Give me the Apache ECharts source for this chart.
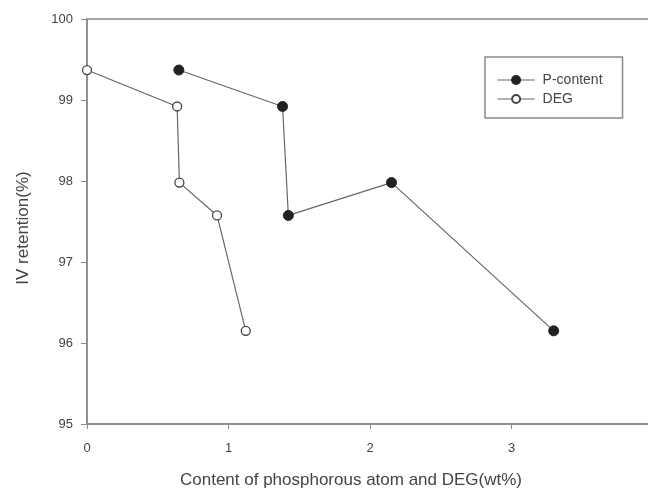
<!DOCTYPE html>
<html>
<head>
<meta charset="utf-8">
<script src="https://cdn.jsdelivr.net/npm/echarts@6/dist/echarts.min.js"></script>
<style>
  html, body { margin: 0; padding: 0; background: #fff; }
  #chart { width: 648px; height: 489px; }
</style>
</head>
<body>
<div id="chart"></div>
<script>
// values (x = wt%, y = IV retention %)
const pContentX = [0.649, 1.382, 1.423, 2.152, 3.298]
const pContentY = [99.37, 98.92, 97.575, 97.98, 96.15]
const degX = [0, 0.637, 0.653, 0.919, 1.122]
const degY = [99.37, 98.92, 97.98, 97.575, 96.15]
const xTicks = { min: 0, max: 4, interval: 1 }
const yTicks = { min: 95, max: 100, interval: 1 }

const axisGray = '#8a8a8a'
const textGray = '#444'
const lineGray = '#666'

const chart = echarts.init(document.getElementById('chart'))

const toPairs = (xs, ys) => xs.map((x, i) => [x, ys[i]])

const option = {
  animation: false,
  textStyle: { fontFamily: 'Liberation Sans, Arial, sans-serif' },
  grid: {
    left: 87,
    right: -5,
    top: 19,
    bottom: 65,
    outerBoundsMode: 'none',
    containLabel: false,
    show: true,
    borderColor: axisGray,
    borderWidth: 1.5
  },
  legend: {
    left: 485,
    top: 57,
    orient: 'vertical',
    itemWidth: 37,
    itemHeight: 10,
    itemGap: 5,
    padding: [16, 20, 12, 12],
    borderColor: '#8a8a8a',
    borderWidth: 1.5,
    lineStyle: { width: 1.2 },
    textStyle: { color: textGray, fontSize: 14, padding: [0, 0, 0, 3] },
    data: ['P-content', 'DEG']
  },
  xAxis: {
    type: 'value',
    min: xTicks.min,
    max: xTicks.max,
    interval: xTicks.interval,
    splitLine: { show: false },
    axisLine: { lineStyle: { color: axisGray, width: 1.5 } },
    axisTick: { show: true, length: 5, lineStyle: { color: axisGray } },
    axisLabel: { color: textGray, fontSize: 13, margin: 18 },
    name: 'Content of phosphorous atom and DEG(wt%)',
    nameLocation: 'middle',
    nameGap: 48,
    nameTextStyle: { color: textGray, fontSize: 17, padding: [0, 38, 0, 0] }
  },
  yAxis: {
    type: 'value',
    min: yTicks.min,
    max: yTicks.max,
    interval: yTicks.interval,
    splitLine: { show: false },
    axisLine: { show: true, lineStyle: { color: axisGray, width: 1.5 } },
    axisTick: { show: true, length: 6, lineStyle: { color: axisGray } },
    axisLabel: { color: textGray, fontSize: 13, margin: 14 },
    name: 'IV retention(%)',
    nameLocation: 'middle',
    nameGap: 55,
    nameTextStyle: { color: textGray, fontSize: 17, padding: [0, 13, 0, 0] }
  },
  series: [
    {
      name: 'P-content',
      type: 'line',
      data: toPairs(pContentX, pContentY),
      symbol: 'circle',
      symbolSize: 10,
      showAllSymbol: true,
      lineStyle: { color: lineGray, width: 1.2 },
      itemStyle: { color: '#222', borderColor: '#222', borderWidth: 1 },
      z: 3
    },
    {
      name: 'DEG',
      type: 'line',
      data: toPairs(degX, degY),
      symbol: 'circle',
      symbolSize: 9,
      showAllSymbol: true,
      lineStyle: { color: lineGray, width: 1.2 },
      itemStyle: { color: '#fff', borderColor: '#444', borderWidth: 1.3 },
      z: 3
    }
  ]
}

chart.setOption(option)
</script>
</body>
</html>
